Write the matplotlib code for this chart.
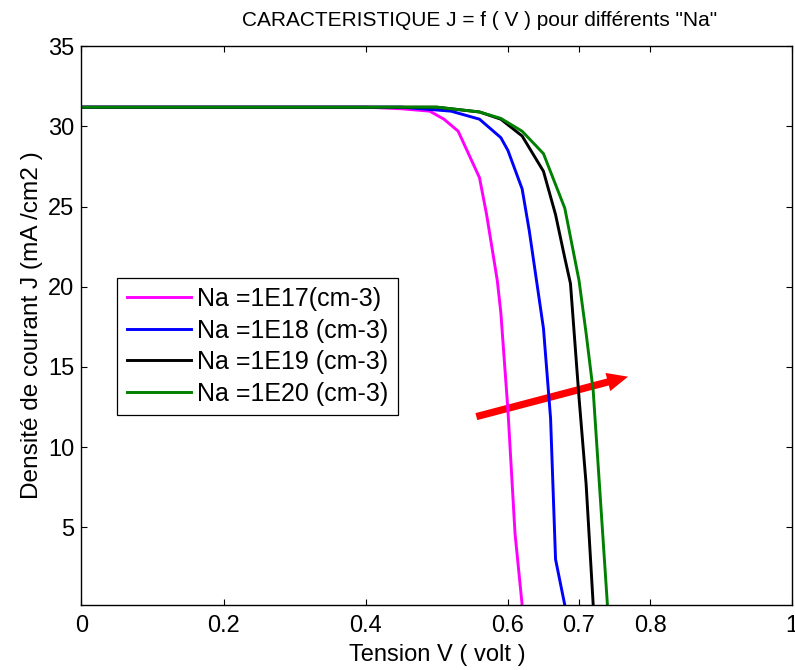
import matplotlib
matplotlib.use("Agg")
import matplotlib.pyplot as plt
from matplotlib.patches import FancyArrowPatch

plt.rcParams['font.family'] = ['Liberation Sans', 'DejaVu Sans']

# Data
v_17 = [0, 0.40, 0.45, 0.49, 0.51, 0.53, 0.56, 0.57, 0.585, 0.59, 0.60, 0.61, 0.62]
j_17 = [31.2, 31.2, 31.1, 30.95, 30.45, 29.7, 26.8, 24.5, 20.4, 18.4, 12.3, 4.6, 0.15]

v_18 = [0, 0.45, 0.52, 0.56, 0.59, 0.60, 0.62, 0.63, 0.65, 0.66, 0.667, 0.68]
j_18 = [31.2, 31.2, 30.95, 30.45, 29.3, 28.5, 26.1, 23.5, 17.4, 11.8, 3.0, 0.15]

v_19 = [0, 0.50, 0.56, 0.59, 0.62, 0.65, 0.667, 0.68, 0.688, 0.70, 0.71, 0.72]
j_19 = [31.2, 31.2, 30.9, 30.45, 29.4, 27.2, 24.5, 21.8, 20.2, 13.1, 7.7, 0.15]

v_20 = [0, 0.50, 0.56, 0.59, 0.62, 0.65, 0.68, 0.70, 0.71, 0.72, 0.74]
j_20 = [31.2, 31.2, 30.9, 30.5, 29.7, 28.3, 24.9, 20.4, 17.1, 13.5, 0.15]

labels = ['Na =1E17(cm-3)', 'Na =1E18 (cm-3)', 'Na =1E19 (cm-3)', 'Na =1E20 (cm-3)']
colors = ['#ff00ff', '#0000ff', '#000000', '#008000']

x_ticks = [0, 0.2, 0.4, 0.6, 0.7, 0.8, 1]
x_ticklabels = ['0', '0.2', '0.4', '0.6', '0.7', '0.8', '1']
y_ticks = [5, 10, 15, 20, 25, 30, 35]

arrow_start = (0.5556, 11.9)
arrow_end = (0.769, 14.39)

fig = plt.figure(figsize=(7.95, 6.70), dpi=100)
ax = fig.add_axes([0.1025, 0.097, 0.894, 0.834])

for v, j, lab, c in zip([v_17, v_18, v_19, v_20], [j_17, j_18, j_19, j_20], labels, colors):
    ax.plot(v, j, color=c, lw=2.1, label=lab)

arrow = FancyArrowPatch(arrow_start, arrow_end,
                        arrowstyle='simple,head_length=1.5,head_width=1.35,tail_width=0.52',
                        mutation_scale=10, color='#ff0000', shrinkA=0, shrinkB=0, lw=0)
ax.add_patch(arrow)

ax.set_xlim(0, 1)
ax.set_ylim(0.15, 35)
ax.set_xticks(x_ticks)
ax.set_xticklabels(x_ticklabels)
ax.set_yticks(y_ticks)
ax.tick_params(direction='in', length=4, width=0.8, top=True, right=True, labelsize=17)
ax.tick_params(axis='x', pad=7)
ax.tick_params(axis='y', pad=5)
for s in ax.spines.values():
    s.set_linewidth(1.0)

ax.set_title('CARACTERISTIQUE J = f ( V ) pour différents "Na"', fontsize=15, pad=14.5, x=0.56)
ax.set_xlabel('Tension V ( volt )', fontsize=17, labelpad=5)
ax.set_ylabel('Densité de courant J (mA /cm2 )', fontsize=17.6, labelpad=4)

leg = ax.legend(loc='upper left', bbox_to_anchor=(0.0506, 0.586), fontsize=18,
                handlelength=2.55, fancybox=False, framealpha=1, edgecolor='black',
                borderpad=0.38, labelspacing=0.3, handletextpad=0.25, borderaxespad=0)
leg.get_frame().set_linewidth(0.9)

fig.savefig('out.png', dpi=100)
